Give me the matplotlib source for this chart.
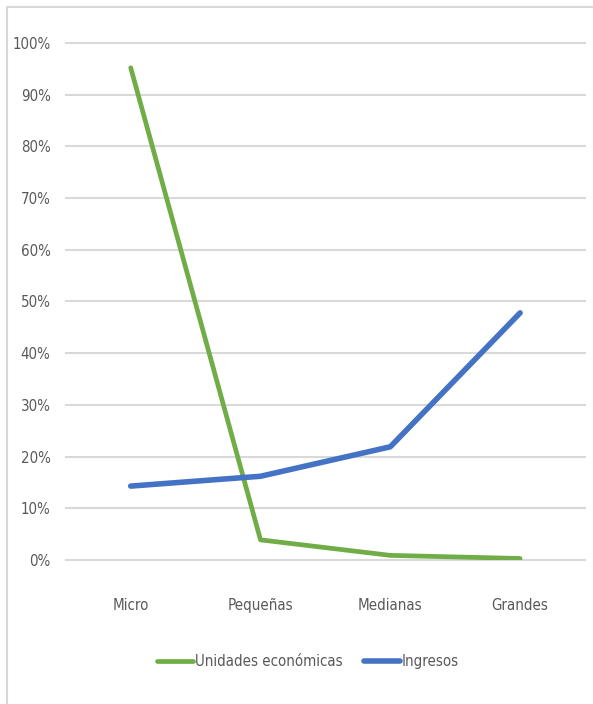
import matplotlib.pyplot as plt
from matplotlib import font_manager
from matplotlib.patches import Rectangle
from matplotlib.ticker import PercentFormatter

names = {f.name for f in font_manager.fontManager.ttflist}
if "Liberation Sans Narrow" in names:
    plt.rcParams['font.family'] = ['Liberation Sans Narrow', 'DejaVu Sans']
else:
    plt.rcParams['font.family'] = ['DejaVu Sans']
    plt.rcParams['font.stretch'] = 'condensed'

categories = ["Micro", "Pequeñas", "Medianas", "Grandes"]
unidades = [95.2, 3.9, 0.9, 0.3]
ingresos = [14.3, 16.2, 21.9, 47.8]
y_ticks = [0, 10, 20, 30, 40, 50, 60, 70, 80, 90, 100]

GREEN = "#70AD47"
BLUE = "#4472C4"
GRID = "#D9D9D9"
TEXT = "#595959"

fig = plt.figure(figsize=(5.93, 7.04), dpi=100)
ax = fig.add_axes([0.111, 0.2045, 0.8755, 0.7345])

# chart border like the spreadsheet frame
fig.patches.append(Rectangle((7 / 593, -0.02), 1.0, 1 - 7 / 704 + 0.02,
                             transform=fig.transFigure, fill=False,
                             edgecolor=GRID, linewidth=1.5))

x = [i + 0.5 for i in range(len(categories))]
ax.plot(x, unidades, color=GREEN, linewidth=3.4, solid_capstyle="round",
        label="Unidades económicas")
ax.plot(x, ingresos, color=BLUE, linewidth=4.0, solid_capstyle="round",
        label="Ingresos")

ax.set_xlim(0, len(categories))
ax.set_ylim(0, 100)
ax.set_yticks(y_ticks)
ax.yaxis.set_major_formatter(PercentFormatter(decimals=0))
ax.set_xticks(x)
ax.set_xticklabels(categories)
ax.grid(axis="y", color=GRID, linewidth=1.5)
for gl in ax.get_ygridlines():
    gl.set_clip_on(False)
ax.set_axisbelow(True)
for s in ax.spines.values():
    s.set_visible(False)
ax.tick_params(length=0, colors=TEXT, labelsize=10.8)
ax.tick_params(axis="x", pad=27)
ax.tick_params(axis="y", pad=11)

ax.legend(loc="center", bbox_to_anchor=(0.466, -0.197), ncol=2, frameon=False,
          fontsize=10.8, labelcolor=TEXT, handlelength=2.4, handletextpad=0.15,
          columnspacing=1.4)

plt.savefig("out.png", dpi=100)
